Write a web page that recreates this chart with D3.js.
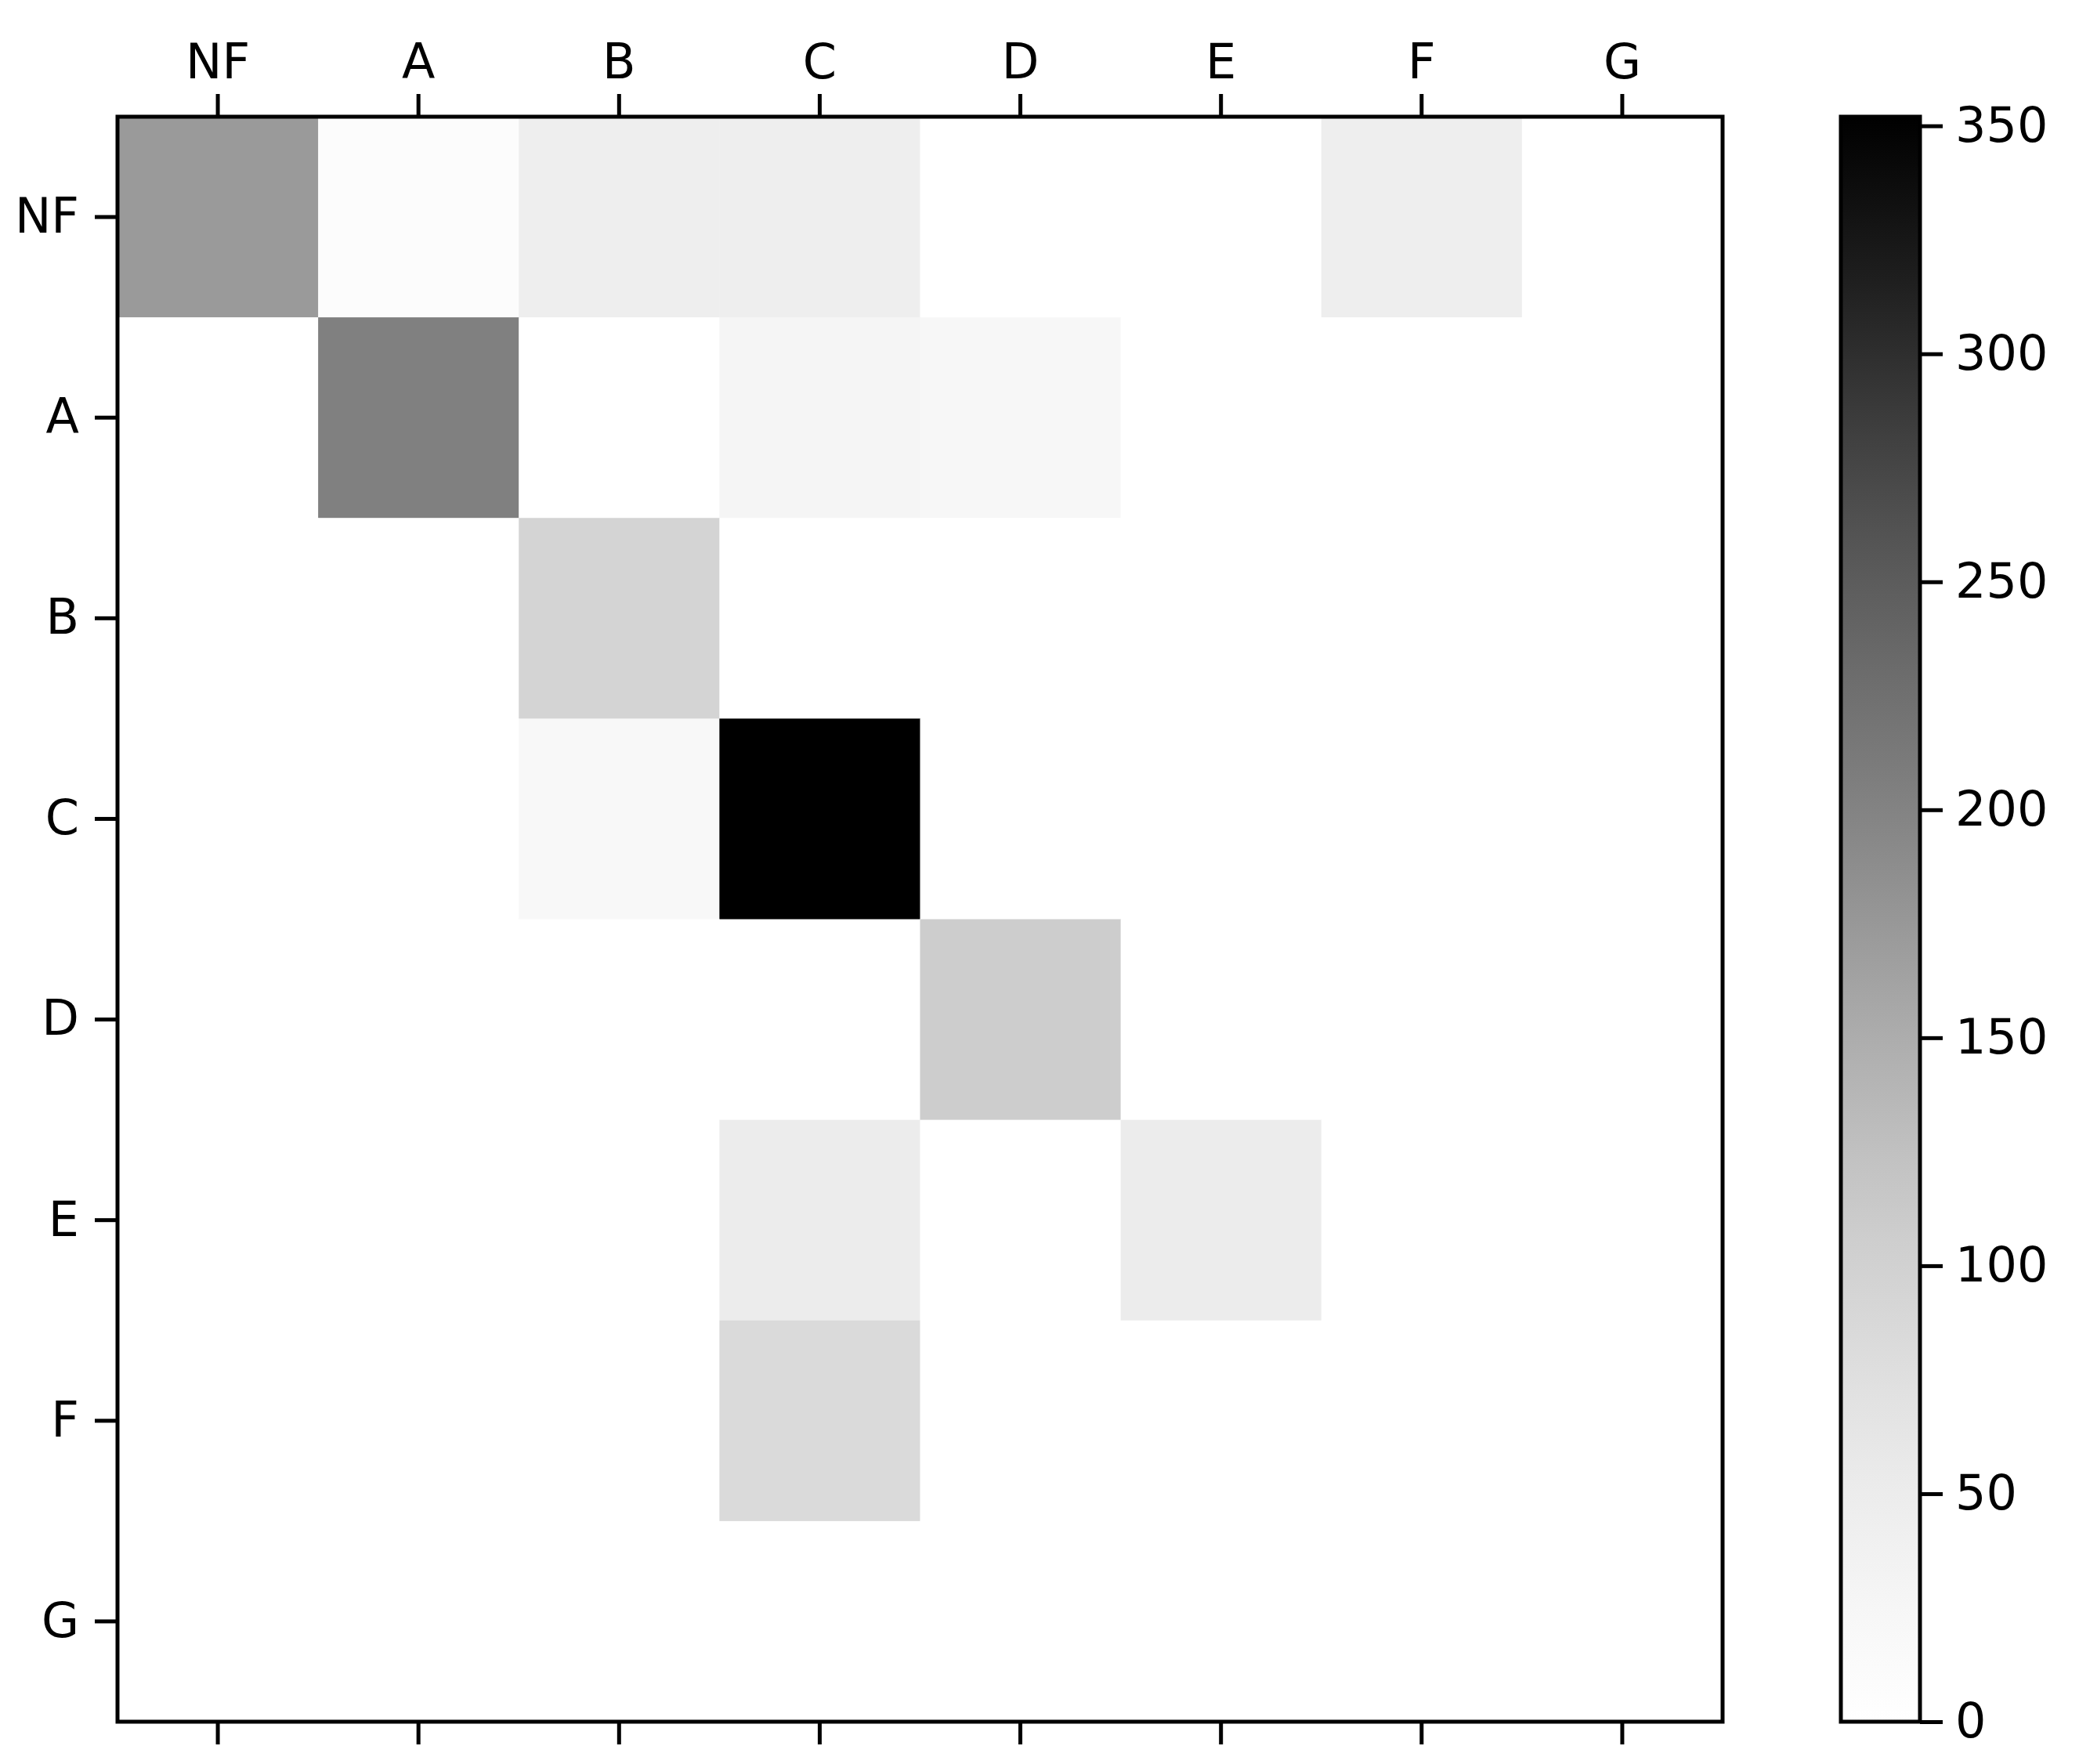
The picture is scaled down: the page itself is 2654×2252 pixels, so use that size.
<!DOCTYPE html>
<html><head><meta charset="utf-8">
<script src="https://cdn.jsdelivr.net/npm/d3@7"></script>
<style>body{margin:0;background:#fff}</style></head>
<body><svg id="c" width="2654" height="2252"></svg>
<script>
const cats = ["NF","A","B","C","D","E","F","G"];
const matrix = [
  [172, 9, 46, 46, 0, 0, 46, 0],
  [0, 204, 0, 28, 23, 0, 0, 0],
  [0, 0, 95, 0, 0, 0, 0, 0],
  [0, 0, 20, 352, 0, 0, 0, 0],
  [0, 0, 0, 0, 106, 0, 0, 0],
  [0, 0, 0, 49, 0, 49, 0, 0],
  [0, 0, 0, 85, 0, 0, 0, 0],
  [0, 0, 0, 0, 0, 0, 0, 0]
];
const cbTicks = [0,50,100,150,200,250,300,350];
const vmax = 352;

const svg = d3.select("#c");
const L=150,T=149,W=2049,H=2049;
const font = "DejaVu Sans, sans-serif", fs=62;
const x = d3.scaleBand().domain(cats).range([L,L+W]);
const y = d3.scaleBand().domain(cats).range([T,T+H]);
const color = d3.scaleSequential(d3.interpolateGreys).domain([0,vmax]);
const cells=[];
matrix.forEach((r,i)=>r.forEach((v,j)=>cells.push({r:cats[i],c:cats[j],v})));
svg.append("g").selectAll("rect").data(cells).join("rect")
  .attr("x",d=>x(d.c)).attr("y",d=>y(d.r))
  .attr("width",x.bandwidth()+0.5).attr("height",y.bandwidth()+0.5)
  .attr("fill",d=>color(d.v));
svg.append("rect").attr("x",L).attr("y",T).attr("width",W).attr("height",H)
  .attr("fill","none").attr("stroke","#000").attr("stroke-width",5);
function style(g){
  g.select(".domain").remove();
  g.selectAll(".tick line").attr("stroke","#000").attr("stroke-width",5);
  g.selectAll(".tick text").attr("font-family",font).attr("font-size",fs).attr("fill","#000");
}
svg.append("g").attr("transform",`translate(0,${T})`)
  .call(d3.axisTop(x).tickSize(29).tickPadding(20)).call(style);
svg.append("g").attr("transform",`translate(0,${T+H})`)
  .call(d3.axisBottom(x).tickSize(29).tickFormat("")).call(style);
svg.append("g").attr("transform",`translate(${L},0)`)
  .call(d3.axisLeft(y).tickSize(29).tickPadding(20)).call(style);

// colorbar
const CX=2350,CW=101;
const cy = d3.scaleLinear().domain([0,vmax]).range([T+H,T]);
const defs=svg.append("defs");
const grad=defs.append("linearGradient").attr("id","g").attr("x1","0").attr("y1","1").attr("x2","0").attr("y2","0");
d3.range(0,1.0001,0.05).forEach(t=>grad.append("stop").attr("offset",t).attr("stop-color",color(t*vmax)));
svg.append("rect").attr("x",CX).attr("y",T).attr("width",CW).attr("height",H).attr("fill","url(#g)")
  .attr("stroke","#000").attr("stroke-width",5);
svg.append("g").attr("transform",`translate(${CX+CW},0)`)
  .call(d3.axisRight(cy).tickValues(cbTicks).tickSize(29).tickPadding(16)).call(style);
</script></body></html>
